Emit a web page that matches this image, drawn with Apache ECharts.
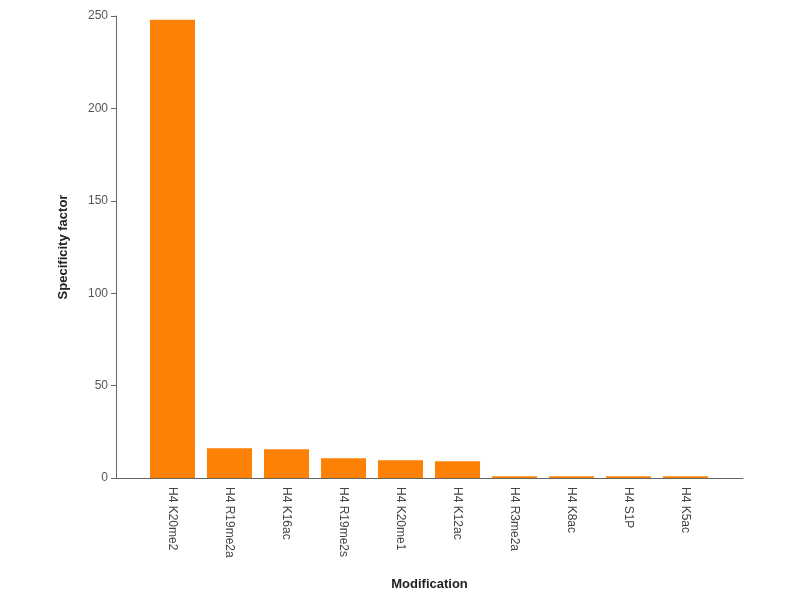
<!DOCTYPE html>
<html>
<head>
<meta charset="utf-8">
<script src="https://cdn.jsdelivr.net/npm/echarts@6/dist/echarts.min.js"></script>
<style>
html, body { margin: 0; padding: 0; background: #fff; }
#chart { width: 800px; height: 600px; }
</style>
</head>
<body>
<div id="chart"></div>
<script>
// data
var categories = ['H4 K20me2', 'H4 R19me2a', 'H4 K16ac', 'H4 R19me2s', 'H4 K20me1',
                  'H4 K12ac', 'H4 R3me2a', 'H4 K8ac', 'H4 S1P', 'H4 K5ac'];
var factors = [248, 16.1, 15.5, 10.7, 9.6, 9.0, 1.0, 1.0, 1.0, 1.0];
var yTicks = [0, 50, 100, 150, 200, 250];

var axisGray = '#666';
var textGray = '#555';

var chart = echarts.init(document.getElementById('chart'));
chart.setOption({
    animation: false,
    grid: [
        // outer frame: y axis and the long x axis line
        { left: 116, right: 57, top: 16, bottom: 122 },
        // inner band where bars live
        { left: 144, right: 86, top: 16, bottom: 122 }
    ],
    xAxis: [
        {
            gridIndex: 0,
            type: 'value',
            min: 0, max: 1,
            axisLine: { show: true, lineStyle: { color: axisGray, width: 1 } },
            axisTick: { show: false },
            axisLabel: { show: false },
            splitLine: { show: false },
            name: 'Modification',
            nameLocation: 'middle',
            nameGap: 100,
            nameTextStyle: { fontFamily: 'Liberation Sans', fontSize: 13, fontWeight: 'bold', color: '#222' }
        },
        {
            gridIndex: 1,
            type: 'category',
            data: categories,
            axisLine: { show: false },
            axisTick: { show: false },
            axisLabel: {
                rotate: -90,
                margin: 9,
                color: '#444',
                fontFamily: 'Liberation Sans',
                fontSize: 12,
                interval: 0
            }
        }
    ],
    yAxis: [
        {
            gridIndex: 0,
            type: 'value',
            min: yTicks[0],
            max: yTicks[yTicks.length - 1],
            interval: yTicks[1] - yTicks[0],
            axisLine: { show: true, lineStyle: { color: axisGray, width: 1 } },
            axisTick: { show: true, length: 5, lineStyle: { color: axisGray } },
            axisLabel: { color: textGray, fontFamily: 'Liberation Sans', fontSize: 12, margin: 8 },
            splitLine: { show: false },
            name: 'Specificity factor',
            nameLocation: 'middle',
            nameGap: 46,
            nameTextStyle: { fontFamily: 'Liberation Sans', fontSize: 13, fontWeight: 'bold', color: '#222' }
        },
        {
            gridIndex: 1,
            type: 'value',
            min: yTicks[0],
            max: yTicks[yTicks.length - 1],
            show: false
        }
    ],
    series: [
        {
            type: 'bar',
            xAxisIndex: 1,
            yAxisIndex: 1,
            data: factors,
            barCategoryGap: '21%',
            itemStyle: { color: '#fc8105' }
        }
    ]
});
</script>
</body>
</html>
